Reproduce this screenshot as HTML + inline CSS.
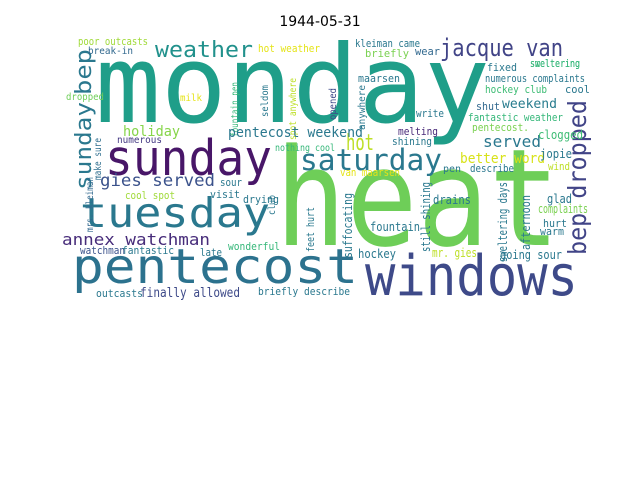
<!DOCTYPE html>
<html><head><meta charset="utf-8"><style>
body{margin:0;background:#fff;}
svg text{font-family:"DejaVu Sans Mono","Liberation Mono",monospace;}
</style></head><body>
<svg width="640" height="480" viewBox="0 0 640 480" xmlns="http://www.w3.org/2000/svg">
<rect width="640" height="480" fill="#fff"/>
<text x="320" y="26" text-anchor="middle" style="font-family:'DejaVu Sans','Liberation Sans',sans-serif" font-size="14" fill="#000">1944-05-31</text>
<g id="cloud"></g>
</svg>
<script>
// [word, x, y, fontSize, color, lengthPx, rotated]
const words = [
["monday",95,122,108,"#1f9e89",395,0],
["heat",275,245,135,"#6ece58",285,0],
["sunday",105,175,49,"#481668",167,0],
["tuesday",80,227,41,"#2a788e",190,0],
["pentecost",72,283,48,"#2c728e",286,0],
["windows",365,295,56,"#3e4a89",213,0],
["saturday",300,170,29,"#2a788e",142,0],
["jacque van",440,56,24,"#414487",123,0],
["weather",155,57,22,"#21918c",98,0],
["hot",346,150,22,"#bddf26",28,0],
["bep dropped",586,255,25,"#414487",155,1],
["sunday",91,190,22,"#2a788e",88,1],
["bep",91,95,22,"#2a788e",46,1],
["annex watchman",62,245,16,"#472c7a",148,0],
["gies served",100,186,17,"#3b528b",115,0],
["poor outcasts",78,45,11,"#a0da39",70,0],
["break-in",88,54,10,"#31688e",45,0],
["hot weather",258,52,11,"#e5e419",62,0],
["fountain pen",238,137,10,"#35b779",55,1],
["seldom",268,117,10,"#2a788e",32,1],
["spot anywhere",296,140,10,"#bddf26",62,1],
["milk",180,101,10,"#e5e419",22,0],
["holiday",123,136,14,"#86d549",57,0],
["numerous",117,143,10,"#443983",45,0],
["pentecost weekend",228,137,14,"#2a788e",135,0],
["nothing cool",275,151,10,"#35b779",60,0],
["make sure",101,180,10,"#2e6e8e",42,1],
["dropped",66,100,10,"#6ece58",38,0],
["mrs. kleiman",93,232,10,"#31688e",55,1],
["kleiman came",355,47,11,"#2a788e",65,0],
["briefly",365,57,11,"#7ad151",44,0],
["wear",415,55,11,"#31688e",25,0],
["fixed",487,71,11,"#2a788e",30,0],
["sweltering",530,67,11,"#35b779",50,0],
["numerous complaints",485,82,11,"#2a788e",100,0],
["hockey club",485,93,11,"#3dbc74",62,0],
["weekend",502,108,13,"#287c8e",55,0],
["shut",476,110,11,"#31688e",24,0],
["maarsen",358,82,11,"#2a788e",42,0],
["opened",336,120,10,"#3e4a89",32,1],
["anywhere",365,130,10,"#2a788e",45,1],
["write",416,117,11,"#2a788e",28,0],
["fantastic weather",468,121,11,"#35b779",95,0],
["pentecost.",472,131,11,"#7ad151",57,0],
["melting",398,135,11,"#482878",40,0],
["shining",392,145,11,"#2a788e",40,0],
["served",483,147,16,"#2a788e",58,0],
["clogged",538,139,12,"#3dbc74",45,0],
["better word",460,163,14,"#d8e219",85,0],
["jopie",540,158,12,"#2a788e",32,0],
["pen",443,172,10,"#2a788e",18,0],
["describe",470,172,11,"#2a788e",44,0],
["wind",548,170,11,"#bddf26",22,0],
["cool",565,93,11,"#2a788e",25,0],
["glad",547,203,12,"#2a788e",25,0],
["complaints",538,213,12,"#7ad151",50,0],
["hurt",543,227,11,"#2a788e",24,0],
["warm",540,235,11,"#2a788e",24,0],
["drains",433,204,12,"#2a788e",38,0],
["fountain",370,231,12,"#2a788e",50,0],
["mr. gies",432,257,12,"#bddf26",45,0],
["going sour",500,259,12,"#2a788e",62,0],
["hockey",358,258,12,"#2a788e",38,0],
["suffocating",352,258,12,"#2a788e",65,1],
["still shining",430,252,12,"#2a788e",70,1],
["sweltering days",507,262,12,"#2a788e",80,1],
["afternoon",530,250,12,"#2a788e",55,1],
["van maarsen",340,176,11,"#e5e419",60,0],
["cool spot",125,199,11,"#a0da39",50,0],
["visit",210,198,11,"#2a788e",30,0],
["sour",220,186,11,"#2a788e",22,0],
["drying",243,203,11,"#2a788e",36,0],
["club",275,215,10,"#2a788e",20,1],
["feet hurt",314,252,11,"#2a788e",45,1],
["watchman",80,254,11,"#3b528b",45,0],
["fantastic",122,254,11,"#2a788e",52,0],
["late",200,256,11,"#2a788e",22,0],
["wonderful",228,250,11,"#35b779",52,0],
["outcasts",96,297,11,"#2a788e",47,0],
["finally allowed",140,297,13,"#3e4a89",100,0],
["briefly describe",258,295,11,"#2a788e",92,0],
["smeltering",530,67,11,"#35b779",50,0]
];
const g = document.getElementById('cloud');
const NS = "http://www.w3.org/2000/svg";
words.forEach(w => {
  const t = document.createElementNS(NS, 'text');
  
  
  t.setAttribute('x', w[1]);
  t.setAttribute('y', w[2]);
  t.setAttribute('font-size', w[3]);
  t.setAttribute('fill', w[4]);
  t.setAttribute('textLength', w[5]);
  t.setAttribute('lengthAdjust', 'spacingAndGlyphs');
  if (w[6]) t.setAttribute('transform', 'rotate(-90 ' + w[1] + ' ' + w[2] + ')');
  t.textContent = w[0];
  g.appendChild(t);
});
</script>
</body></html>
